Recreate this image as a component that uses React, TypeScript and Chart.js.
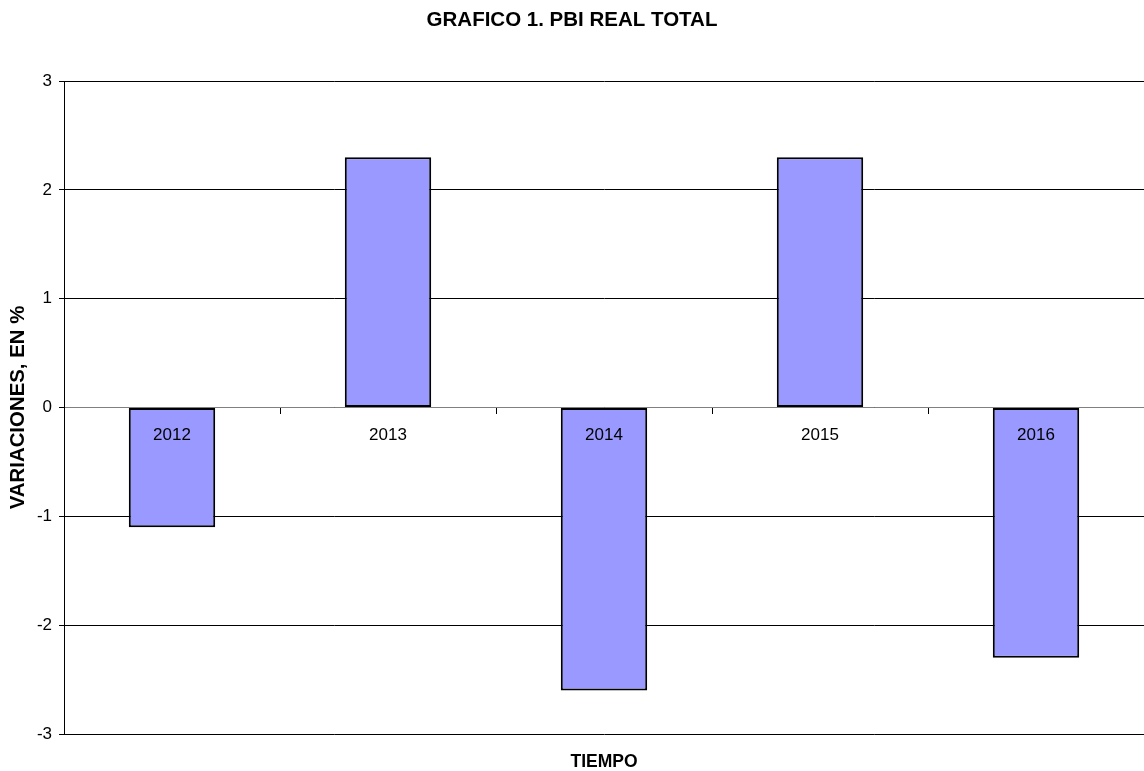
import React, { useEffect, useRef } from "react";
import { Chart, registerables } from "chart.js";

Chart.register(...registerables);

const categories = ["2012", "2013", "2014", "2015", "2016"];
const values = [-1.1, 2.3, -2.6, 2.3, -2.3];
const yMin = -3;
const yMax = 3;
const yStep = 1;

const chartTitle = "GRAFICO 1. PBI REAL TOTAL";
const xTitle = "TIEMPO";
const yTitle = "VARIACIONES, EN %";

const FONT = "'Liberation Sans', Arial, sans-serif";

export default function App() {
  const ref = useRef<HTMLCanvasElement | null>(null);

  useEffect(() => {
    document.body.style.margin = "0";
    const canvas = ref.current;
    if (!canvas) return;
    const chart = new Chart(canvas, {
      type: "bar",
      data: {
        labels: categories,
        datasets: [
          {
            data: values,
            backgroundColor: "#9999FF",
            borderColor: "#000000",
            borderWidth: 2,
            borderSkipped: false,
            barPercentage: 0.4,
            categoryPercentage: 1,
          },
        ],
      },
      options: {
        responsive: false,
        animation: false,
        layout: { padding: { left: 0, right: 0, top: 0, bottom: 0 } },
        plugins: {
          legend: { display: false },
          tooltip: { enabled: false },
          title: {
            display: true,
            text: chartTitle,
            color: "#000",
            font: { family: FONT, size: 20.5, weight: "bold", lineHeight: 1.2 },
            padding: { top: 8, bottom: 48.4 },
          },
          subtitle: {
            display: true,
            text: xTitle,
            position: "bottom",
            fullSize: false,
            color: "#000",
            font: { family: FONT, size: 17.5, weight: "bold", lineHeight: 1 },
            padding: { top: 19.5, bottom: 0 },
          },
        },
        scales: {
          x: {
            position: { y: 0 },
            offset: true,
            grid: {
              display: true,
              drawOnChartArea: false,
              drawTicks: true,
              tickLength: 6,
              color: "#000",
              offset: true,
            },
            border: { display: true, color: "#808080", width: 1 },
            ticks: {
              z: 1,
              color: "#000",
              font: { family: FONT, size: 17 },
              padding: 12,
              maxRotation: 0,
            },
          },
          y: {
            min: yMin,
            max: yMax,
            afterFit: (scale: any) => {
              scale.width = 64;
            },
            grid: {
              color: "#000",
              lineWidth: 1,
              drawTicks: true,
              tickLength: 5,
            },
            border: { display: true, color: "#000", width: 1 },
            ticks: {
              stepSize: yStep,
              color: "#000",
              font: { family: FONT, size: 17 },
              padding: 7,
            },
            title: {
              display: true,
              text: yTitle,
              color: "#000",
              font: { family: FONT, size: 20.4, weight: "bold", lineHeight: 1.2 },
              padding: { top: 6, bottom: 0 },
            },
          },
        },
      },
    });
    return () => chart.destroy();
  }, []);

  return (
    <div style={{ position: "absolute", left: 0, top: 0, width: 1144, height: 771 }}>
      <canvas ref={ref} width={1144} height={771} />
    </div>
  );
}
